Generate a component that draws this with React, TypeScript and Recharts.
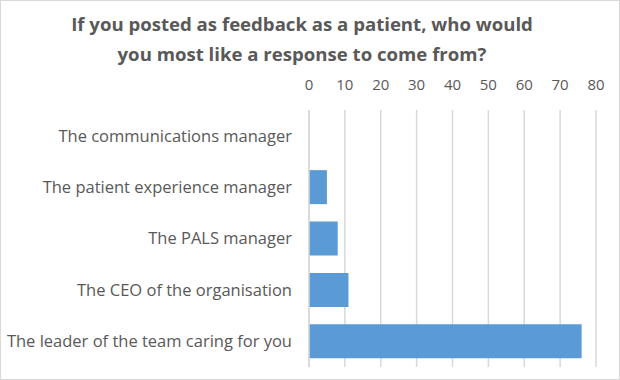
import { BarChart, Bar, XAxis, YAxis, CartesianGrid } from "recharts"

const categories = [
  "The communications manager",
  "The patient experience manager",
  "The PALS manager",
  "The CEO of the organisation",
  "The leader of the team caring for you",
]
const responses = [0, 5, 8, 11, 76]
const xTicks = [0, 10, 20, 30, 40, 50, 60, 70, 80]

const data = categories.map((name, i) => ({ name, value: responses[i] }))

const textColor = "#595959"
const font = "'Open Sans', sans-serif"

export default function App() {
  return (
    <div
      style={{
        position: "absolute",
        left: 0,
        top: 0,
        width: 618,
        height: 378,
        border: "1px solid #d9d9d9",
        background: "#fff",
        fontFamily: font,
      }}
    >
      <div
        style={{
          position: "absolute",
          left: -8,
          top: 8,
          width: 618,
          textAlign: "center",
          fontSize: 18.6,
          fontWeight: 700,
          lineHeight: "30px",
          color: textColor,
        }}
      >
        If you posted as feedback as a patient, who would
        <br />
        you most like a response to come from?
      </div>
      <div style={{ position: "absolute", left: -1, top: -1 }}>
        <BarChart
          width={620}
          height={380}
          data={data}
          layout="vertical"
          margin={{ top: 80, right: 24, bottom: 13, left: 0 }}
          barCategoryGap="17%"
        >
          <CartesianGrid horizontal={false} stroke="#d9d9d9" strokeWidth={1.5} />
          <XAxis
            type="number"
            orientation="top"
            domain={[0, 80]}
            ticks={xTicks}
            axisLine={false}
            tickLine={false}
            height={30}
            tickMargin={14}
            tick={{ fill: textColor, fontSize: 15, fontFamily: font }}
          />
          <YAxis
            type="category"
            dataKey="name"
            width={309}
            axisLine={{ stroke: "#d9d9d9", strokeWidth: 1.5 }}
            tickLine={false}
            tickMargin={11}
            tick={{ fill: textColor, fontSize: 16.5, fontFamily: font }}
          />
          <Bar dataKey="value" fill="#5b9bd5" isAnimationActive={false} />
        </BarChart>
      </div>
    </div>
  )
}
